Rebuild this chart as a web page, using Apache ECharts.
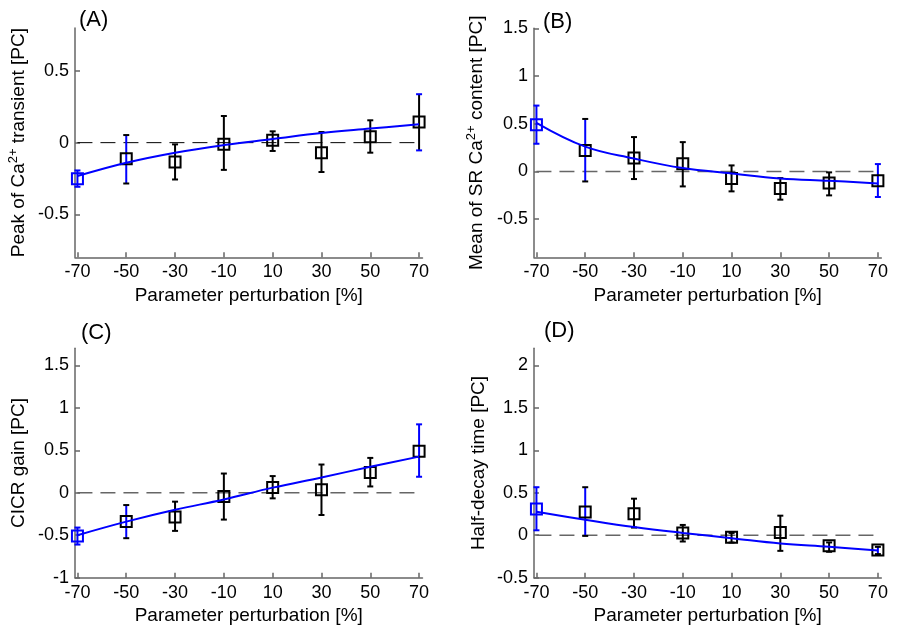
<!DOCTYPE html>
<html>
<head>
<meta charset="utf-8">
<script src="https://cdn.jsdelivr.net/npm/echarts@6/dist/echarts.min.js"></script>
<style>
  html, body { margin: 0; padding: 0; background: #ffffff; }
  #chart { width: 898px; height: 630px; }
</style>
</head>
<body>
<div id="chart"></div>
<script>
// Perturbation levels (x) shared by all four panels
const perturbation = [-70, -50, -30, -10, 10, 30, 50, 70];
const xTicks = [-70, -50, -30, -10, 10, 30, 50, 70];
const xRange = [-71, 71.4];

// (A) Peak of Ca2+ transient
const peakMean = [-0.252, -0.112, -0.135, -0.012, 0.016, -0.07, 0.042, 0.144];
const peakLow  = [-0.308, -0.285, -0.257, -0.19, -0.058, -0.205, -0.07, -0.054];
const peakHigh = [-0.194, 0.053, -0.012, 0.186, 0.079, 0.074, 0.156, 0.338];
const peakFit  = [-0.233, -0.14, -0.07, -0.017, 0.025, 0.067, 0.098, 0.128];
const peakRange = [-0.8, 0.8];
const peakTicks = [-0.5, 0, 0.5];

// (B) Mean of SR Ca2+ content
const srMean = [0.488, 0.22, 0.14, 0.08, -0.073, -0.178, -0.122, -0.098];
const srLow  = [0.29, -0.105, -0.08, -0.157, -0.209, -0.296, -0.251, -0.268];
const srHigh = [0.69, 0.55, 0.36, 0.307, 0.063, -0.07, -0.01, 0.077];
const srFit  = [0.51, 0.26, 0.135, 0.035, -0.021, -0.073, -0.098, -0.126];
const srRange = [-0.9, 1.5];
const srTicks = [-0.5, 0, 0.5, 1, 1.5];

// (C) CICR gain
const gainMean = [-0.51, -0.34, -0.285, -0.045, 0.062, 0.035, 0.238, 0.488];
const gainLow  = [-0.61, -0.535, -0.449, -0.316, -0.066, -0.262, 0.074, 0.188];
const gainHigh = [-0.41, -0.145, -0.105, 0.226, 0.196, 0.332, 0.41, 0.805];
const gainFit  = [-0.5, -0.34, -0.2, -0.08, 0.06, 0.18, 0.305, 0.425];
const gainRange = [-1, 1.7];
const gainTicks = [-1, -0.5, 0, 0.5, 1, 1.5];

// (D) Half-decay time
const decayMean = [0.31, 0.272, 0.253, 0.027, -0.023, 0.031, -0.125, -0.175];
const decayLow  = [0.058, -0.008, 0.09, -0.074, -0.086, -0.184, -0.195, -0.222];
const decayHigh = [0.565, 0.565, 0.43, 0.121, 0.027, 0.23, -0.085, -0.137];
const decayFit  = [0.275, 0.183, 0.097, 0.027, -0.035, -0.098, -0.137, -0.18];
const decayRange = [-0.5, 2.2];
const decayTicks = [-0.5, 0, 0.5, 1, 1.5, 2];

// Which error bars belong to the fitted (blue) group: stems and caps
const peakBlueStem = [-70, -50],      peakBlueCap = [-70, 70];
const srBlueStem = [-70, -50, 70],    srBlueCap = [-70, 70];
const gainBlueStem = [-70, -50, 70],  gainBlueCap = [-70, 70];
const decayBlueStem = [-70, -50, 70], decayBlueCap = [-70];
const blueMarker = [-70];

const FONT = '"Liberation Sans", Arial, Helvetica, sans-serif';
const BLUE = '#0000ff';
const BLACK = '#000000';
const AXIS = '#666666';
const CLEAR = 'rgba(0,0,0,0)';

const panels = [
  { title: '(A)', titlePos: [79, 9], grid: { left: 75, top: 28, width: 347.5, height: 229.3 },
    name: 'Peak of Ca{sup|2+} transient [PC]', nameGap: 44,
    mean: peakMean, low: peakLow, high: peakHigh, fit: peakFit, range: peakRange, ticks: peakTicks,
    blueStem: peakBlueStem, blueCap: peakBlueCap, zeroColor: '#000000', zeroWidth: 1 },
  { title: '(B)', titlePos: [543, 11], grid: { left: 534, top: 28.3, width: 347.3, height: 229 },
    name: 'Mean of SR Ca{sup|2+} content [PC]', nameGap: 45,
    mean: srMean, low: srLow, high: srHigh, fit: srFit, range: srRange, ticks: srTicks,
    blueStem: srBlueStem, blueCap: srBlueCap, zeroColor: '#666666', zeroWidth: 1.5 },
  { title: '(C)', titlePos: [81, 322], grid: { left: 75, top: 348.3, width: 347.5, height: 229.4 },
    name: 'CICR gain [PC]', nameGap: 44,
    mean: gainMean, low: gainLow, high: gainHigh, fit: gainFit, range: gainRange, ticks: gainTicks,
    blueStem: gainBlueStem, blueCap: gainBlueCap, zeroColor: '#666666', zeroWidth: 1.5 },
  { title: '(D)', titlePos: [544, 320], grid: { left: 534, top: 348.3, width: 347.3, height: 229.4 },
    name: 'Half-decay time [PC]', nameGap: 43,
    mean: decayMean, low: decayLow, high: decayHigh, fit: decayFit, range: decayRange, ticks: decayTicks,
    blueStem: decayBlueStem, blueCap: decayBlueCap, zeroColor: '#666666', zeroWidth: 1.5 }
];

// Vertical error bar with caps, placed through the axis scales
function errorBarItem(params, api) {
  const x = api.value(0);
  const top = api.coord([x, api.value(2)]);
  const bot = api.coord([x, api.value(1)]);
  const stemColor = api.value(3) ? BLUE : BLACK;
  const capColor = api.value(4) ? BLUE : BLACK;
  const half = 3;
  const stem = { stroke: stemColor, lineWidth: 2 };
  const cap = { stroke: capColor, lineWidth: 2 };
  return {
    type: 'group',
    children: [
      { type: 'line', shape: { x1: top[0], y1: top[1], x2: bot[0], y2: bot[1] }, style: stem },
      { type: 'line', shape: { x1: top[0] - half, y1: top[1], x2: top[0] + half, y2: top[1] }, style: cap },
      { type: 'line', shape: { x1: bot[0] - half, y1: bot[1], x2: bot[0] + half, y2: bot[1] }, style: cap }
    ]
  };
}

const option = {
  backgroundColor: '#ffffff',
  animation: false,
  textStyle: { fontFamily: FONT },
  title: [], grid: [], xAxis: [], yAxis: [], series: []
};

panels.forEach((p, i) => {
  option.title.push({
    text: p.title, left: p.titlePos[0], top: p.titlePos[1], padding: 0,
    textStyle: { fontSize: 22, fontWeight: 'normal', color: BLACK, fontFamily: FONT }
  });
  option.grid.push(Object.assign({ containLabel: false }, p.grid));
  option.xAxis.push({
    type: 'value', gridIndex: i, min: xRange[0], max: xRange[1],
    name: 'Parameter perturbation [%]', nameLocation: 'middle', nameGap: 29,
    nameTextStyle: { fontSize: 19, color: BLACK, fontFamily: FONT },
    axisLine: { show: true, onZero: false, lineStyle: { color: AXIS, width: 1.5 } },
    axisTick: { show: true, inside: true, length: 5, customValues: xTicks, lineStyle: { color: AXIS, width: 1.5 } },
    axisLabel: { customValues: xTicks, fontSize: 18, color: BLACK, margin: 6, fontFamily: FONT },
    splitLine: { show: false }
  });
  option.yAxis.push({
    type: 'value', gridIndex: i, min: p.range[0], max: p.range[1],
    name: p.name, nameLocation: 'middle', nameGap: p.nameGap,
    nameTextStyle: {
      fontSize: 19, color: BLACK, fontFamily: FONT, lineHeight: 24,
      rich: { sup: { fontSize: 13, color: BLACK, fontFamily: FONT, verticalAlign: 'top', lineHeight: 13 } }
    },
    axisLine: { show: true, onZero: false, lineStyle: { color: AXIS, width: 1.5 } },
    axisTick: { show: true, inside: true, length: 5, customValues: p.ticks, lineStyle: { color: AXIS, width: 1.5 } },
    axisLabel: { customValues: p.ticks, fontSize: 18, color: BLACK, margin: 6, fontFamily: FONT },
    splitLine: { show: false }
  });

  // dashed zero reference across the perturbation range
  option.series.push({
    type: 'line', xAxisIndex: i, yAxisIndex: i, silent: true, symbol: 'none', z: 1,
    data: [[perturbation[0], 0], [perturbation[perturbation.length - 1], 0]],
    lineStyle: { color: p.zeroColor, width: p.zeroWidth, type: [15, 8] }
  });

  option.series.push({
    type: 'custom', xAxisIndex: i, yAxisIndex: i, z: 2, silent: true,
    renderItem: errorBarItem,
    encode: { x: 0, y: [1, 2] },
    data: perturbation.map((x, k) => [x, p.low[k], p.high[k],
      p.blueStem.includes(x) ? 1 : 0, p.blueCap.includes(x) ? 1 : 0])
  });

  option.series.push({
    type: 'scatter', xAxisIndex: i, yAxisIndex: i, z: 3, silent: true,
    symbol: 'rect', symbolSize: 11, color: CLEAR,
    itemStyle: { color: CLEAR, borderColor: BLACK, borderWidth: 2, opacity: 1 },
    data: perturbation.map((x, k) => blueMarker.includes(x)
      ? { value: [x, p.mean[k]], itemStyle: { color: CLEAR, borderColor: BLUE, borderWidth: 2, opacity: 1 } }
      : [x, p.mean[k]])
  });

  option.series.push({
    type: 'line', xAxisIndex: i, yAxisIndex: i, z: 4, silent: true,
    smooth: 0.4, showSymbol: false, symbol: 'none',
    data: perturbation.map((x, k) => [x, p.fit[k]]),
    lineStyle: { color: BLUE, width: 2 }
  });
});

const chart = echarts.init(document.getElementById('chart'), null, { renderer: 'canvas' });
chart.setOption(option);
</script>
</body>
</html>
